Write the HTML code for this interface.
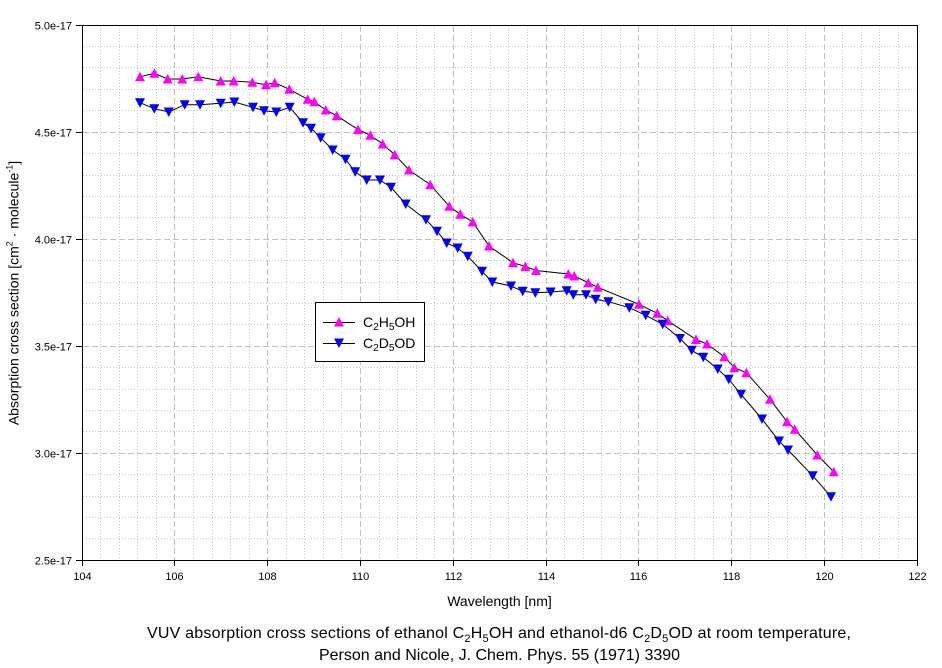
<!DOCTYPE html>
<html><head><meta charset="utf-8"><style>
html,body{margin:0;padding:0;background:#fff;}
svg{display:block;}
text{font-family:"Liberation Sans",Arial,sans-serif;fill:#000;}
</style></head><body>
<svg width="942" height="668" viewBox="0 0 942 668" xmlns="http://www.w3.org/2000/svg">
<rect width="942" height="668" fill="#fff"/>
<!-- minor grid -->
<g stroke="#c4c4c4" stroke-width="1" stroke-dasharray="1,2" fill="none">
<path d="M100.5 26V560M119.5 26V560M137.5 26V560M156.5 26V560M193.5 26V560M212.5 26V560M230.5 26V560M249.5 26V560M286.5 26V560M304.5 26V560M323.5 26V560M341.5 26V560M379.5 26V560M397.5 26V560M416.5 26V560M434.5 26V560M471.5 26V560M490.5 26V560M508.5 26V560M527.5 26V560M564.5 26V560M583.5 26V560M601.5 26V560M620.5 26V560M657.5 26V560M675.5 26V560M694.5 26V560M713.5 26V560M750.5 26V560M768.5 26V560M787.5 26V560M805.5 26V560M842.5 26V560M861.5 26V560M879.5 26V560M898.5 26V560"/>
<path d="M83 46.5H917M83 67.5H917M83 89.5H917M83 110.5H917M83 153.5H917M83 175.5H917M83 196.5H917M83 217.5H917M83 260.5H917M83 282.5H917M83 303.5H917M83 324.5H917M83 367.5H917M83 389.5H917M83 410.5H917M83 431.5H917M83 474.5H917M83 496.5H917M83 517.5H917M83 538.5H917"/>
</g>
<!-- major grid -->
<g stroke="#c0c0c0" stroke-width="1" stroke-dasharray="6,3" fill="none">
<path d="M174.5 26V560M267.5 26V560M360.5 26V560M453.5 26V560M546.5 26V560M638.5 26V560M731.5 26V560M824.5 26V560"/>
<path d="M83 132.5H917M83 239.5H917M83 346.5H917M83 453.5H917"/>
</g>
<!-- series lines -->
<polyline fill="none" stroke="#000" stroke-width="1" points="140,76.7 154.3,73.3 167.7,79 182.3,79 198.3,76.7 220.7,81 233.7,81 252.3,82.3 266,84.7 274.7,82.7 289.3,89.3 307.7,99.3 314.3,101.7 325.7,110 336.7,115.7 358,129.5 370.3,135.3 382.7,144 394.7,154.7 409,170 430.3,184.7 449.3,206.3 460.3,214.3 472.7,222 489,246 513,262.7 525.3,266.5 536,270.5 568.3,274 574.3,276 588.3,282.7 597.7,287.3 639,304.3 657.3,313.3 667.7,320.7 696,339.5 707,344 724.3,356.7 734.3,367.7 746.3,372.7 770,399.3 787,421.7 794.7,429.3 817.3,455 833.7,471.7"/>
<polyline fill="none" stroke="#000" stroke-width="1" points="140,102.7 154.3,108.7 168.7,112 184.7,104.7 200,104.7 220.7,103.3 234.3,102 253,107.3 264,110.7 276.3,112 289.7,107.3 303,122.7 311,128.3 320.7,137.7 332.7,150 345.5,159.2 355.2,171.8 366.7,180 380,180 391,187.3 405.7,204 426,219.7 437,231.3 446.7,243 457.7,248 467.7,256.3 482,271.3 492.3,282 511,286 522.7,291.3 535.3,292.7 550.7,292 566.7,290.7 573.3,294.7 586,294.7 595.7,299.3 608.3,301.7 629.3,307.7 645.7,315.3 662.7,324.3 680,338.5 691.7,350.3 703.3,357.3 717.7,369 728.7,379.3 741,394.3 762,419 779,441 788,450 812.7,475.7 831,496.7"/>
<!-- markers -->
<defs>
<path id="up" d="M-5 4.5L5 4.5L0 -5Z" fill="#ff00ff"/>
<path id="dn" d="M-5 -4.5L5 -4.5L0 5Z" fill="#0000ff"/>
</defs>
<g>
<use href="#up" x="140" y="76.7"/><use href="#up" x="154.3" y="73.3"/><use href="#up" x="167.7" y="79"/><use href="#up" x="182.3" y="79"/><use href="#up" x="198.3" y="76.7"/><use href="#up" x="220.7" y="81"/><use href="#up" x="233.7" y="81"/><use href="#up" x="252.3" y="82.3"/><use href="#up" x="266" y="84.7"/><use href="#up" x="274.7" y="82.7"/><use href="#up" x="289.3" y="89.3"/><use href="#up" x="307.7" y="99.3"/><use href="#up" x="314.3" y="101.7"/><use href="#up" x="325.7" y="110"/><use href="#up" x="336.7" y="115.7"/><use href="#up" x="358" y="129.5"/><use href="#up" x="370.3" y="135.3"/><use href="#up" x="382.7" y="144"/><use href="#up" x="394.7" y="154.7"/><use href="#up" x="409" y="170"/><use href="#up" x="430.3" y="184.7"/><use href="#up" x="449.3" y="206.3"/><use href="#up" x="460.3" y="214.3"/><use href="#up" x="472.7" y="222"/><use href="#up" x="489" y="246"/><use href="#up" x="513" y="262.7"/><use href="#up" x="525.3" y="266.5"/><use href="#up" x="536" y="270.5"/><use href="#up" x="568.3" y="274"/><use href="#up" x="574.3" y="276"/><use href="#up" x="588.3" y="282.7"/><use href="#up" x="597.7" y="287.3"/><use href="#up" x="639" y="304.3"/><use href="#up" x="657.3" y="313.3"/><use href="#up" x="667.7" y="320.7"/><use href="#up" x="696" y="339.5"/><use href="#up" x="707" y="344"/><use href="#up" x="724.3" y="356.7"/><use href="#up" x="734.3" y="367.7"/><use href="#up" x="746.3" y="372.7"/><use href="#up" x="770" y="399.3"/><use href="#up" x="787" y="421.7"/><use href="#up" x="794.7" y="429.3"/><use href="#up" x="817.3" y="455"/><use href="#up" x="833.7" y="471.7"/>
</g>
<g>
<use href="#dn" x="140" y="102.7"/><use href="#dn" x="154.3" y="108.7"/><use href="#dn" x="168.7" y="112"/><use href="#dn" x="184.7" y="104.7"/><use href="#dn" x="200" y="104.7"/><use href="#dn" x="220.7" y="103.3"/><use href="#dn" x="234.3" y="102"/><use href="#dn" x="253" y="107.3"/><use href="#dn" x="264" y="110.7"/><use href="#dn" x="276.3" y="112"/><use href="#dn" x="289.7" y="107.3"/><use href="#dn" x="303" y="122.7"/><use href="#dn" x="311" y="128.3"/><use href="#dn" x="320.7" y="137.7"/><use href="#dn" x="332.7" y="150"/><use href="#dn" x="345.5" y="159.2"/><use href="#dn" x="355.2" y="171.8"/><use href="#dn" x="366.7" y="180"/><use href="#dn" x="380" y="180"/><use href="#dn" x="391" y="187.3"/><use href="#dn" x="405.7" y="204"/><use href="#dn" x="426" y="219.7"/><use href="#dn" x="437" y="231.3"/><use href="#dn" x="446.7" y="243"/><use href="#dn" x="457.7" y="248"/><use href="#dn" x="467.7" y="256.3"/><use href="#dn" x="482" y="271.3"/><use href="#dn" x="492.3" y="282"/><use href="#dn" x="511" y="286"/><use href="#dn" x="522.7" y="291.3"/><use href="#dn" x="535.3" y="292.7"/><use href="#dn" x="550.7" y="292"/><use href="#dn" x="566.7" y="290.7"/><use href="#dn" x="573.3" y="294.7"/><use href="#dn" x="586" y="294.7"/><use href="#dn" x="595.7" y="299.3"/><use href="#dn" x="608.3" y="301.7"/><use href="#dn" x="629.3" y="307.7"/><use href="#dn" x="645.7" y="315.3"/><use href="#dn" x="662.7" y="324.3"/><use href="#dn" x="680" y="338.5"/><use href="#dn" x="691.7" y="350.3"/><use href="#dn" x="703.3" y="357.3"/><use href="#dn" x="717.7" y="369"/><use href="#dn" x="728.7" y="379.3"/><use href="#dn" x="741" y="394.3"/><use href="#dn" x="762" y="419"/><use href="#dn" x="779" y="441"/><use href="#dn" x="788" y="450"/><use href="#dn" x="812.7" y="475.7"/><use href="#dn" x="831" y="496.7"/>
</g>
<!-- frame -->
<rect x="82.5" y="25.5" width="835" height="535" fill="none" stroke="#000" stroke-width="1"/>
<!-- ticks -->
<g stroke="#000" stroke-width="1">
<path d="M82.5 560V566M174.5 560V566M267.5 560V566M360.5 560V566M453.5 560V566M546.5 560V566M638.5 560V566M731.5 560V566M824.5 560V566M917.5 560V566"/>
<path d="M76 25.5H83M76 132.5H83M76 239.5H83M76 346.5H83M76 453.5H83M76 560.5H83"/>
</g>
<!-- x tick labels -->
<g font-size="11" text-anchor="middle">
<text x="82.5" y="580">104</text><text x="174.5" y="580">106</text><text x="267.5" y="580">108</text><text x="360.5" y="580">110</text><text x="453.5" y="580">112</text><text x="546.5" y="580">114</text><text x="638.5" y="580">116</text><text x="731.5" y="580">118</text><text x="824.5" y="580">120</text><text x="917.5" y="580">122</text>
</g>
<!-- y tick labels -->
<g font-size="11" text-anchor="end">
<text x="72" y="29.5">5.0e-17</text><text x="72" y="136.5">4.5e-17</text><text x="72" y="243.5">4.0e-17</text><text x="72" y="350.5">3.5e-17</text><text x="72" y="457.5">3.0e-17</text><text x="72" y="564.5">2.5e-17</text>
</g>
<!-- axis titles -->
<text x="499.5" y="606" font-size="14" text-anchor="middle">Wavelength [nm]</text>
<text transform="translate(18.5,293) rotate(-90)" font-size="14" text-anchor="middle">Absorption cross section [cm<tspan font-size="9" dy="-6">2</tspan><tspan dy="6"> · molecule</tspan><tspan font-size="9" dy="-6">-1</tspan><tspan dy="6">]</tspan></text>
<!-- legend -->
<rect x="315.5" y="302.5" width="109" height="59" fill="#fff" stroke="#000" stroke-width="1"/>
<path d="M323 322.5H355M323 343.5H355" stroke="#000" stroke-width="1"/>
<use href="#up" x="339" y="322"/>
<use href="#dn" x="339" y="343"/>
<text x="363" y="327" font-size="14">C<tspan font-size="10" dy="3">2</tspan><tspan dy="-3">H</tspan><tspan font-size="10" dy="3">5</tspan><tspan dy="-3">OH</tspan></text>
<text x="363" y="348" font-size="14">C<tspan font-size="10" dy="3">2</tspan><tspan dy="-3">D</tspan><tspan font-size="10" dy="3">5</tspan><tspan dy="-3">OD</tspan></text>
<!-- caption -->
<text x="147" y="638" font-size="16" textLength="704" lengthAdjust="spacing">VUV absorption cross sections of ethanol C<tspan font-size="11" dy="4">2</tspan><tspan dy="-4">H</tspan><tspan font-size="11" dy="4">5</tspan><tspan dy="-4">OH and ethanol-d6 C</tspan><tspan font-size="11" dy="4">2</tspan><tspan dy="-4">D</tspan><tspan font-size="11" dy="4">5</tspan><tspan dy="-4">OD at room temperature,</tspan></text>
<text x="499.5" y="660" font-size="16" text-anchor="middle">Person and Nicole, J. Chem. Phys. 55 (1971) 3390</text>
</svg>
</body></html>
